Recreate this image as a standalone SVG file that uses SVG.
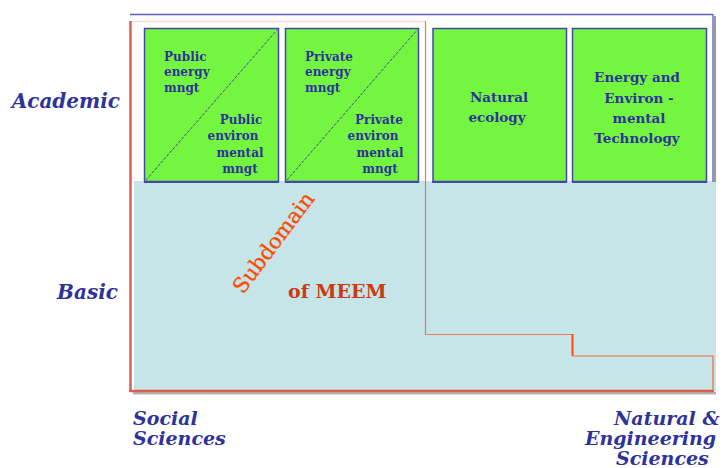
<svg xmlns="http://www.w3.org/2000/svg" width="725" height="468" viewBox="0 0 725 468">
  <style>
    .box { fill: #74f540; stroke: #4446a8; stroke-width: 1.5; }
    .diag { stroke: #4446a8; stroke-width: 1; stroke-dasharray: 3 1.5; fill: none; }
    .t-sm { font-family: "DejaVu Serif", "Liberation Serif", serif; font-weight: bold; font-size: 12px; fill: #2e339c; }
    .t-md { font-family: "DejaVu Serif", "Liberation Serif", serif; font-weight: bold; font-size: 13.5px; fill: #2e339c; text-anchor: middle; }
    .axis { font-family: "DejaVu Serif", "Liberation Serif", serif; font-weight: bold; font-style: italic; font-size: 20px; fill: #2e339c; }
    .axis-b { font-family: "DejaVu Serif", "Liberation Serif", serif; font-weight: bold; font-style: italic; font-size: 19px; fill: #2e339c; }
    .mid { text-anchor: middle; }
  </style>

  <!-- basic research area -->
  <rect x="134" y="181" width="582" height="210" fill="#c5e5e8"/>

  <!-- frame -->
  <g id="frame">
    <line x1="130" y1="14.5" x2="713" y2="14.5" stroke="#5a5ec0" stroke-width="1.5"/>
    <line x1="713" y1="14" x2="713" y2="182" stroke="#6a6ec8" stroke-width="1.5"/>
    <rect x="714" y="16" width="2" height="166" fill="#9a9a9a"/>
    <line x1="131" y1="21.5" x2="425" y2="21.5" stroke="#fbdcd2" stroke-width="1.5"/>
    <rect x="133" y="392" width="583" height="2.5" fill="#b4b4b4"/>
    <line x1="130.5" y1="21" x2="130.5" y2="392" stroke="#dc5e4e" stroke-width="2.5"/>
    <line x1="129.5" y1="391" x2="714" y2="391" stroke="#dc5e4e" stroke-width="2.5"/>
  </g>

  <!-- subdomain boundary -->
  <g id="connectors" fill="none">
    <polyline points="425.5,21 425.5,334.5 572.5,334.5" stroke="#ee7a5c" stroke-width="1.2"/>
    <line x1="572.5" y1="334" x2="572.5" y2="356" stroke="#ff4a00" stroke-width="2"/>
    <polyline points="572.5,356 713,356 713,390" stroke="#f06a3c" stroke-width="1.2"/>
  </g>

  <!-- academic fields -->
  <g id="public">
    <rect class="box" x="144.5" y="28.5" width="134" height="153"/>
    <line x1="144" y1="182" x2="279" y2="182" stroke="#4446a8" stroke-width="2"/>
    <line class="diag" x1="146" y1="180" x2="277" y2="30"/>
    <text class="t-sm" x="164" y="61">Public</text>
    <text class="t-sm" x="164" y="76">energy</text>
    <text class="t-sm" x="164" y="92">mngt</text>
    <text class="t-sm mid" x="241" y="124">Public</text>
    <text class="t-sm mid" x="233" y="140">environ</text>
    <text class="t-sm mid" x="240" y="157">mental</text>
    <text class="t-sm mid" x="240" y="173">mngt</text>
  </g>

  <g id="private">
    <rect class="box" x="285.5" y="28.5" width="133" height="153"/>
    <line x1="285" y1="182" x2="419" y2="182" stroke="#4446a8" stroke-width="2"/>
    <line class="diag" x1="287" y1="180" x2="417" y2="30"/>
    <text class="t-sm" x="305" y="61">Private</text>
    <text class="t-sm" x="305" y="76">energy</text>
    <text class="t-sm" x="305" y="92">mngt</text>
    <text class="t-sm mid" x="379" y="124">Private</text>
    <text class="t-sm mid" x="373" y="140">environ</text>
    <text class="t-sm mid" x="380" y="157">mental</text>
    <text class="t-sm mid" x="380" y="173">mngt</text>
  </g>

  <g id="ecology">
    <rect class="box" x="433" y="28.5" width="133.5" height="153"/>
    <line x1="432" y1="182" x2="567" y2="182" stroke="#4446a8" stroke-width="2"/>
    <text class="t-md" x="499" y="102">Natural</text>
    <text class="t-md" x="497" y="122">ecology</text>
  </g>

  <g id="technology">
    <rect class="box" x="572.5" y="28.5" width="134" height="153"/>
    <line x1="572" y1="182" x2="707" y2="182" stroke="#4446a8" stroke-width="2"/>
    <text class="t-md" x="637" y="82">Energy and</text>
    <text class="t-md" x="639" y="103">Environ -</text>
    <text class="t-md" x="639" y="123">mental</text>
    <text class="t-md" x="637" y="143">Technology</text>
  </g>

  <!-- subdomain label -->
  <g id="subdomain">
    <text x="243" y="295" transform="rotate(-53 243 295)" font-family="DejaVu Serif, Liberation Serif, serif" font-size="21" fill="#ff4a00" stroke="#ff4a00" stroke-width="0.3">Subdomain</text>
    <text x="288" y="298" font-family="DejaVu Serif, Liberation Serif, serif" font-weight="bold" font-size="19" fill="#cc3a14">of MEEM</text>
  </g>

  <!-- axis labels -->
  <g id="labels">
    <text class="axis" x="120" y="108" text-anchor="end">Academic</text>
    <text class="axis" x="118" y="299" text-anchor="end">Basic</text>
    <text class="axis-b" x="133" y="425">Social</text>
    <text class="axis-b" x="133" y="445">Sciences</text>
    <text class="axis-b" x="614" y="425">Natural &amp;</text>
    <text class="axis-b" x="585" y="445">Engineering</text>
    <text class="axis-b" x="616" y="465">Sciences</text>
  </g>
</svg>
